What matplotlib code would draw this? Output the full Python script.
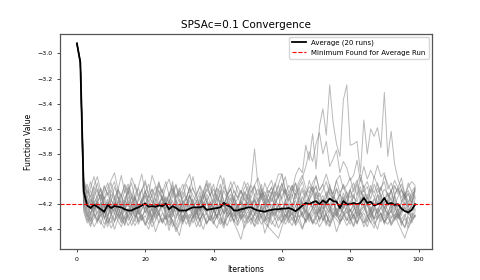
import matplotlib
matplotlib.use("Agg")
import matplotlib.pyplot as plt
import numpy as np

# every run starts from the same point
head = [-2.92, -3.07]

runs_tail = [
    [-4.08, -4.16, -4.24, -4.19, -4.27, -4.21, -4.14, -4.23,
     -4.28, -4.18, -4.22, -4.13, -4.25, -4.31, -4.20, -4.15, -4.24, -4.17,
     -4.26, -4.21, -4.12, -4.23, -4.29, -4.18, -4.24, -4.16, -4.27, -4.20,
     -4.33, -4.22, -4.15, -4.25, -4.19, -4.28, -4.13, -4.21, -4.26, -4.18,
     -4.24, -4.30, -4.17, -4.22, -4.11, -4.26, -4.20, -4.29, -4.16, -4.23,
     -4.19, -4.27, -4.14, -4.24, -4.31, -4.18, -4.22, -4.12, -4.25, -4.20,
     -4.28, -4.16, -4.23, -4.19, -4.30, -4.14, -4.21, -4.26, -4.17, -4.24,
     -4.11, -4.22, -4.27, -4.18, -4.25, -4.15, -4.29, -4.20, -4.23, -4.13,
     -4.26, -4.19, -4.31, -4.17, -4.22, -4.14, -4.25, -4.20, -4.28, -4.16,
     -4.23, -4.18, -4.27, -4.12, -4.24, -4.29, -4.19, -4.22, -4.15, -4.21],
    [-4.15, -4.26, -4.33, -4.28, -4.35, -4.24, -4.30, -4.38,
     -4.27, -4.33, -4.22, -4.31, -4.36, -4.25, -4.29, -4.34, -4.21, -4.30,
     -4.37, -4.28, -4.24, -4.32, -4.26, -4.35, -4.29, -4.41, -4.27, -4.31,
     -4.23, -4.34, -4.28, -4.38, -4.30, -4.25, -4.33, -4.27, -4.36, -4.29,
     -4.32, -4.22, -4.30, -4.37, -4.26, -4.34, -4.28, -4.31, -4.24, -4.35,
     -4.29, -4.36, -4.27, -4.33, -4.21, -4.30, -4.38, -4.26, -4.32, -4.28,
     -4.34, -4.25, -4.31, -4.27, -4.36, -4.23, -4.30, -4.33, -4.28, -4.35,
     -4.26, -4.32, -4.29, -4.37, -4.24, -4.31, -4.27, -4.34, -4.30, -4.22,
     -4.33, -4.28, -4.35, -4.26, -4.31, -4.38, -4.29, -4.24, -4.32, -4.27,
     -4.36, -4.30, -4.25, -4.33, -4.28, -4.34, -4.39, -4.27, -4.31, -4.29],
    [-4.04, -4.11, -4.02, -4.14, -4.08, -4.18, -4.06, -4.12,
     -4.03, -4.15, -4.09, -3.97, -4.11, -4.07, -4.16, -4.04, -4.13, -4.09,
     -4.01, -4.14, -4.08, -4.17, -4.05, -4.11, -4.02, -4.13, -4.07, -4.19,
     -4.10, -4.04, -4.15, -4.08, -3.98, -4.12, -4.06, -4.16, -4.09, -4.03,
     -4.14, -4.07, -4.11, -3.99, -4.13, -4.08, -4.17, -4.05, -4.12, -4.02,
     -4.10, -4.15, -4.06, -4.13, -4.04, -4.18, -4.09, -4.12, -4.03, -4.14,
     -4.07, -3.98, -4.11, -4.05, -4.16, -4.08, -4.02, -4.13, -4.06, -4.10,
     -3.97, -4.09, -4.04, -4.14, -4.07, -4.12, -4.01, -4.11, -4.05, -4.15,
     -4.08, -4.03, -4.13, -3.99, -4.10, -4.06, -4.16, -4.04, -4.11, -4.07,
     -4.02, -4.14, -4.09, -4.05, -4.12, -4.08, -4.15, -4.03, -4.10, -4.06],
    [-4.20, -4.30, -4.22, -4.27, -4.33, -4.19, -4.26, -4.31,
     -4.21, -4.28, -4.17, -4.25, -4.32, -4.23, -4.29, -4.20, -4.34, -4.24,
     -4.18, -4.27, -4.31, -4.22, -4.26, -4.19, -4.30, -4.24, -4.35, -4.38,
     -4.45, -4.32, -4.25, -4.21, -4.29, -4.23, -4.33, -4.26, -4.18, -4.28,
     -4.22, -4.31, -4.25, -4.19, -4.30, -4.27, -4.34, -4.21, -4.26, -4.23,
     -4.32, -4.24, -4.17, -4.29, -4.22, -4.33, -4.26, -4.20, -4.28, -4.24,
     -4.31, -4.19, -4.27, -4.23, -4.35, -4.25, -4.21, -4.30, -4.24, -4.18,
     -4.28, -4.22, -4.33, -4.26, -4.20, -4.29, -4.23, -4.31, -4.19, -4.27,
     -4.24, -4.32, -4.21, -4.28, -4.25, -4.18, -4.30, -4.23, -4.27, -4.34,
     -4.22, -4.29, -4.25, -4.20, -4.31, -4.26, -4.23, -4.28, -4.19, -4.24],
    [-4.02, -4.13, -4.21, -4.06, -4.17, -4.25, -4.10, -4.03,
     -4.16, -4.22, -4.09, -4.14, -4.05, -4.19, -4.26, -4.12, -4.07, -4.18,
     -4.11, -4.04, -4.15, -4.23, -4.13, -4.08, -4.20, -4.14, -4.02, -4.17,
     -4.24, -4.10, -4.16, -4.06, -4.19, -4.12, -4.25, -4.15, -4.08, -4.13,
     -4.04, -4.18, -4.11, -4.22, -4.14, -4.07, -4.20, -4.16, -4.09, -4.15,
     -4.21, -4.10, -4.05, -4.17, -4.12, -4.24, -4.13, -4.06, -4.19, -4.11,
     -4.16, -4.08, -4.22, -4.14, -4.03, -4.15, -4.20, -4.09, -4.17, -4.12,
     -4.05, -4.18, -4.13, -4.23, -4.10, -4.16, -4.07, -4.19, -4.14, -4.21,
     -4.09, -4.15, -4.04, -4.17, -4.12, -4.22, -4.08, -4.14, -4.19, -4.06,
     -4.16, -4.11, -4.23, -4.13, -4.07, -4.18, -4.12, -4.20, -4.10, -4.15],
    [-4.18, -4.29, -4.36, -4.31, -4.26, -4.34, -4.39, -4.30,
     -4.35, -4.27, -4.33, -4.38, -4.29, -4.24, -4.32, -4.37, -4.31, -4.28,
     -4.34, -4.40, -4.30, -4.26, -4.35, -4.31, -4.37, -4.28, -4.33, -4.42,
     -4.36, -4.30, -4.25, -4.34, -4.29, -4.38, -4.32, -4.27, -4.35, -4.31,
     -4.36, -4.28, -4.33, -4.39, -4.30, -4.26, -4.35, -4.41, -4.48, -4.37,
     -4.31, -4.27, -4.34, -4.29, -4.36, -4.32, -4.25, -4.33, -4.38, -4.30,
     -4.35, -4.28, -4.32, -4.37, -4.29, -4.34, -4.40, -4.31, -4.27, -4.33,
     -4.36, -4.30, -4.25, -4.34, -4.38, -4.29, -4.32, -4.36, -4.28, -4.33,
     -4.30, -4.37, -4.26, -4.31, -4.35, -4.29, -4.34, -4.39, -4.30, -4.27,
     -4.33, -4.36, -4.31, -4.28, -4.35, -4.41, -4.47, -4.38, -4.32, -4.29],
    [-4.10, -4.04, -4.19, -4.27, -4.15, -4.08, -4.22, -4.30,
     -4.18, -4.06, -4.14, -4.25, -4.20, -4.11, -4.03, -4.17, -4.28, -4.21,
     -4.13, -4.24, -4.30, -4.19, -4.09, -4.16, -4.26, -4.22, -4.14, -4.05,
     -4.18, -4.27, -4.21, -4.12, -4.24, -4.31, -4.20, -4.10, -4.17, -4.26,
     -4.22, -4.13, -4.04, -4.19, -4.28, -4.23, -4.15, -4.25, -4.32, -4.21,
     -4.12, -4.18, -4.27, -4.20, -4.09, -4.16, -4.24, -4.29, -4.19, -4.14,
     -4.03, -4.17, -4.26, -4.22, -4.11, -4.19, -4.28, -4.21, -4.13, -4.06,
     -4.18, -4.25, -4.20, -4.10, -4.23, -4.30, -4.17, -4.12, -4.24, -4.19,
     -4.08, -4.21, -4.27, -4.15, -4.05, -4.18, -4.26, -4.22, -4.13, -4.20,
     -4.29, -4.16, -4.09, -4.23, -4.28, -4.18, -4.12, -4.25, -4.21, -4.08],
    [-4.24, -4.33, -4.27, -4.21, -4.30, -4.36, -4.25, -4.19,
     -4.28, -4.34, -4.23, -4.29, -4.37, -4.26, -4.20, -4.31, -4.25, -4.33,
     -4.22, -4.28, -4.35, -4.27, -4.18, -4.26, -4.32, -4.24, -4.30, -4.21,
     -4.29, -4.36, -4.26, -4.23, -4.31, -4.27, -4.34, -4.22, -4.28, -4.33,
     -4.25, -4.19, -4.29, -4.35, -4.24, -4.30, -4.26, -4.21, -4.32, -4.28,
     -4.23, -4.31, -4.37, -4.27, -4.22, -4.29, -4.34, -4.25, -4.30, -4.20,
     -4.27, -4.33, -4.24, -4.29, -4.21, -4.30, -4.26, -4.35, -4.28, -4.23,
     -4.31, -4.25, -4.19, -4.28, -4.34, -4.26, -4.30, -4.22, -4.27, -4.33,
     -4.24, -4.29, -4.36, -4.25, -4.21, -4.30, -4.27, -4.32, -4.23, -4.28,
     -4.35, -4.26, -4.22, -4.31, -4.27, -4.37, -4.29, -4.24, -4.30, -4.26],
    [-4.00, -4.09, -4.14, -4.05, -3.98, -4.10, -4.16, -4.07,
     -4.01, -3.95, -4.08, -4.13, -4.04, -4.11, -3.99, -4.06, -4.15, -4.09,
     -4.03, -4.12, -3.97, -4.05, -4.10, -4.17, -4.06, -4.00, -4.11, -4.04,
     -4.14, -4.08, -4.02, -3.96, -4.09, -4.13, -4.05, -4.11, -4.01, -4.07,
     -4.15, -4.06, -3.97, -4.04, -4.12, -4.08, -4.02, -4.10, -4.16, -4.07,
     -4.03, -4.11, -4.05, -3.99, -4.09, -4.14, -4.06, -4.01, -4.12, -4.04,
     -3.96, -4.08, -4.13, -4.05, -4.10, -4.02, -3.97, -4.07, -4.11, -4.03,
     -3.98, -4.09, -4.04, -3.96, -4.06, -4.12, -4.01, -3.97, -4.08, -4.05,
     -3.99, -4.10, -4.03, -3.96, -4.07, -4.02, -4.11, -3.98, -4.05, -4.09,
     -3.97, -4.04, -4.10, -4.01, -4.07, -3.99, -4.13, -4.06, -4.02, -4.05],
    [-4.14, -4.22, -4.28, -4.17, -4.24, -4.19, -4.31, -4.25,
     -4.16, -4.23, -4.29, -4.20, -4.26, -4.14, -4.22, -4.30, -4.24, -4.18,
     -4.27, -4.21, -4.33, -4.25, -4.19, -4.23, -4.15, -4.28, -4.22, -4.26,
     -4.20, -4.31, -4.24, -4.17, -4.27, -4.22, -4.29, -4.18, -4.25, -4.21,
     -4.32, -4.24, -4.19, -4.28, -4.23, -4.15, -4.26, -4.21, -4.30, -4.25,
     -4.18, -4.27, -4.22, -4.31, -4.20, -4.26, -4.16, -4.24, -4.29, -4.21,
     -4.25, -4.19, -4.30, -4.23, -4.27, -4.17, -4.24, -4.20, -4.32, -4.26,
     -4.21, -4.28, -4.16, -4.23, -4.27, -4.19, -4.25, -4.30, -4.22, -4.18,
     -4.26, -4.21, -4.29, -4.24, -4.17, -4.27, -4.22, -4.31, -4.25, -4.19,
     -4.23, -4.28, -4.20, -4.26, -4.32, -4.24, -4.18, -4.27, -4.22, -4.25],
    [-4.22, -4.31, -4.38, -4.27, -4.33, -4.29, -4.24, -4.35,
     -4.30, -4.40, -4.32, -4.26, -4.34, -4.28, -4.37, -4.31, -4.25, -4.33,
     -4.29, -4.36, -4.30, -4.42, -4.34, -4.27, -4.32, -4.28, -4.38, -4.31,
     -4.25, -4.34, -4.29, -4.36, -4.30, -4.26, -4.33, -4.40, -4.31, -4.27,
     -4.35, -4.29, -4.24, -4.32, -4.37, -4.30, -4.26, -4.34, -4.28, -4.39,
     -4.33, -4.27, -4.31, -4.36, -4.29, -4.43, -4.35, -4.30, -4.25, -4.33,
     -4.28, -4.36, -4.31, -4.26, -4.34, -4.29, -4.39, -4.32, -4.27, -4.35,
     -4.30, -4.24, -4.33, -4.28, -4.37, -4.31, -4.42, -4.34, -4.29, -4.26,
     -4.32, -4.38, -4.30, -4.27, -4.35, -4.31, -4.25, -4.33, -4.40, -4.29,
     -4.34, -4.28, -4.36, -4.31, -4.26, -4.33, -4.38, -4.30, -4.35, -4.28],
    [-4.06, -4.15, -4.09, -4.20, -4.13, -4.07, -4.18, -4.24,
     -4.12, -4.17, -4.08, -4.21, -4.15, -4.10, -4.19, -4.13, -4.23, -4.16,
     -4.09, -4.18, -4.12, -4.06, -4.17, -4.22, -4.14, -4.19, -4.08, -4.15,
     -4.11, -4.20, -4.16, -4.07, -4.13, -4.18, -4.10, -4.24, -4.17, -4.12,
     -4.19, -4.08, -4.15, -4.21, -4.13, -4.17, -4.09, -4.14, -4.20, -4.11,
     -4.16, -4.23, -4.12, -4.18, -4.07, -4.14, -4.19, -4.10, -4.16, -4.21,
     -4.13, -4.08, -4.17, -4.12, -4.22, -4.15, -4.09, -4.18, -4.14, -4.06,
     -4.16, -4.11, -4.20, -4.15, -4.08, -4.13, -4.19, -4.12, -4.17, -4.10,
     -4.21, -4.14, -4.18, -4.09, -4.15, -4.12, -4.20, -4.16, -4.07, -4.13,
     -4.19, -4.11, -4.17, -4.22, -4.14, -4.09, -4.16, -4.12, -4.19, -4.10],
    [-4.05, -4.20, -4.29, -4.12, -4.03, -4.18, -4.32, -4.22,
     -4.09, -4.15, -4.27, -4.34, -4.19, -4.06, -4.13, -4.25, -4.17, -4.08,
     -4.21, -4.30, -4.23, -4.11, -4.02, -4.16, -4.28, -4.35, -4.24, -4.14,
     -4.07, -4.19, -4.26, -4.13, -4.21, -4.33, -4.27, -4.15, -4.04, -4.12,
     -4.24, -4.31, -4.20, -4.09, -4.16, -4.28, -4.22, -4.36, -4.25, -4.13,
     -4.06, -4.18, -4.29, -4.21, -4.11, -4.19, -4.32, -4.26, -4.14, -4.05,
     -4.17, -4.24, -4.33, -4.22, -4.12, -4.07, -4.20, -4.28, -4.16, -4.10,
     -4.23, -4.34, -4.25, -4.15, -4.04, -4.17, -4.27, -4.21, -4.11, -4.19,
     -4.30, -4.24, -4.13, -4.06, -4.18, -4.29, -4.35, -4.23, -4.12, -4.16,
     -4.26, -4.20, -4.09, -4.18, -4.31, -4.25, -4.14, -4.21, -4.33, -4.15],
    [-4.19, -4.27, -4.34, -4.25, -4.21, -4.30, -4.26, -4.35,
     -4.29, -4.23, -4.31, -4.27, -4.20, -4.33, -4.28, -4.24, -4.36, -4.30,
     -4.25, -4.32, -4.27, -4.21, -4.29, -4.34, -4.26, -4.31, -4.23, -4.37,
     -4.29, -4.24, -4.32, -4.28, -4.35, -4.26, -4.22, -4.30, -4.27, -4.33,
     -4.25, -4.31, -4.36, -4.28, -4.23, -4.29, -4.34, -4.27, -4.22, -4.31,
     -4.26, -4.33, -4.28, -4.24, -4.30, -4.35, -4.38, -4.41, -4.44, -4.47,
     -4.38, -4.31, -4.26, -4.33, -4.28, -4.22, -4.30, -4.25, -4.34, -4.29,
     -4.24, -4.32, -4.27, -4.35, -4.30, -4.23, -4.29, -4.33, -4.26, -4.31,
     -4.36, -4.28, -4.24, -4.30, -4.27, -4.34, -4.25, -4.32, -4.29, -4.22,
     -4.31, -4.26, -4.35, -4.29, -4.24, -4.32, -4.28, -4.36, -4.27, -4.30],
    [-4.11, -4.19, -4.13, -4.25, -4.18, -4.12, -4.22, -4.16,
     -4.27, -4.20, -4.14, -4.23, -4.17, -4.10, -4.21, -4.26, -4.15, -4.19,
     -4.24, -4.13, -4.18, -4.28, -4.21, -4.15, -4.20, -4.11, -4.23, -4.17,
     -4.26, -4.19, -4.14, -4.22, -4.16, -4.27, -4.20, -4.12, -4.18, -4.24,
     -4.15, -4.21, -4.09, -4.17, -4.25, -4.19, -4.13, -4.22, -4.18, -4.27,
     -4.14, -4.20, -4.16, -4.24, -4.11, -4.19, -4.23, -4.15, -4.21, -4.13,
     -4.26, -4.18, -4.12, -4.22, -4.17, -4.25, -4.14, -4.20, -4.16, -4.23,
     -4.10, -4.19, -4.24, -4.17, -4.21, -4.13, -4.18, -4.26, -4.15, -4.22,
     -4.19, -4.12, -4.24, -4.18, -4.14, -4.21, -4.27, -4.16, -4.20, -4.13,
     -4.23, -4.17, -4.21, -4.14, -4.26, -4.19, -4.15, -4.22, -4.18, -4.13],
    [-4.03, -4.12, -4.07, -3.98, -4.10, -4.16, -4.05, -4.13,
     -4.08, -4.02, -4.14, -4.19, -4.09, -4.04, -4.12, -4.17, -4.06, -3.96,
     -4.11, -4.15, -4.08, -4.13, -4.03, -4.10, -4.18, -4.12, -4.05, -4.14,
     -4.09, -4.16, -4.04, -4.11, -4.07, -4.15, -4.20, -4.10, -4.03, -4.13,
     -4.08, -4.14, -4.18, -4.06, -4.12, -4.02, -4.10, -4.15, -4.09, -4.17,
     -4.11, -4.05, -4.13, -4.08, -4.16, -4.03, -4.11, -4.07, -4.14, -4.10,
     -4.04, -4.12, -4.18, -4.09, -4.03, -4.13, -4.07, -4.15, -4.01, -4.10,
     -4.06, -4.14, -4.09, -4.02, -4.12, -4.17, -4.08, -4.13, -4.04, -4.11,
     -4.15, -4.07, -4.01, -4.12, -4.09, -4.16, -4.05, -4.11, -4.03, -4.14,
     -4.08, -4.12, -4.17, -4.06, -4.10, -4.04, -4.13, -4.09, -4.15, -4.07],
    [-4.26, -4.35, -4.30, -4.38, -4.33, -4.27, -4.36, -4.31,
     -4.39, -4.34, -4.28, -4.35, -4.30, -4.37, -4.32, -4.26, -4.34, -4.29,
     -4.36, -4.31, -4.38, -4.33, -4.27, -4.35, -4.30, -4.37, -4.32, -4.40,
     -4.34, -4.29, -4.36, -4.31, -4.27, -4.33, -4.38, -4.30, -4.35, -4.29,
     -4.34, -4.39, -4.31, -4.36, -4.30, -4.26, -4.33, -4.37, -4.32, -4.28,
     -4.35, -4.31, -4.38, -4.33, -4.27, -4.34, -4.30, -4.36, -4.31, -4.39,
     -4.33, -4.28, -4.35, -4.30, -4.37, -4.32, -4.27, -4.34, -4.29, -4.36,
     -4.31, -4.38, -4.33, -4.28, -4.35, -4.30, -4.26, -4.34, -4.31, -4.37,
     -4.32, -4.28, -4.35, -4.30, -4.38, -4.33, -4.29, -4.36, -4.31, -4.27,
     -4.34, -4.30, -4.37, -4.32, -4.28, -4.35, -4.31, -4.39, -4.33, -4.30],
    [-4.16, -4.24, -4.31, -4.22, -4.18, -4.27, -4.21, -4.29,
     -4.24, -4.19, -4.26, -4.32, -4.23, -4.17, -4.25, -4.21, -4.28, -4.24,
     -4.19, -4.27, -4.22, -4.30, -4.25, -4.20, -4.26, -4.23, -4.17, -4.29,
     -4.24, -4.20, -4.27, -4.31, -4.23, -4.18, -4.25, -4.22, -4.28, -4.19,
     -4.26, -4.21, -4.29, -4.24, -4.18, -4.25, -4.30, -4.22, -4.27, -4.20,
     -4.24, -4.28, -4.21, -4.17, -4.25, -4.22, -4.29, -4.24, -4.19, -4.27,
     -4.23, -4.30, -4.25, -4.20, -4.26, -4.22, -4.18, -4.25, -4.29, -4.23,
     -4.19, -4.26, -4.22, -4.28, -4.24, -4.18, -4.25, -4.21, -4.27, -4.23,
     -4.30, -4.25, -4.20, -4.26, -4.22, -4.29, -4.24, -4.19, -4.27, -4.23,
     -4.18, -4.25, -4.31, -4.24, -4.20, -4.26, -4.22, -4.28, -4.25, -4.21],
    [-4.13, -4.21, -4.16, -4.24, -4.19, -4.12, -4.23, -4.18,
     -4.25, -4.15, -4.21, -4.28, -4.17, -4.22, -4.14, -4.20, -4.26, -4.18,
     -4.13, -4.22, -4.17, -4.25, -4.20, -4.14, -4.23, -4.18, -4.27, -4.21,
     -4.16, -4.24, -4.19, -4.13, -4.22, -4.17, -4.26, -4.20, -4.15, -4.23,
     -4.18, -4.12, -4.21, -4.27, -4.19, -4.24, -4.16, -4.22, -4.18, -4.25,
     -4.14, -4.20, -4.17, -4.23, -4.15, -4.21, -4.12, -4.18, -4.10, -4.15,
     -4.08, -4.12, -4.05, -4.09, -3.97, -3.91, -3.95, -3.73, -3.85, -3.64,
     -3.92, -3.58, -3.44, -3.65, -3.25, -3.55, -3.72, -3.82, -3.37, -3.25,
     -3.73, -3.72, -3.70, -3.95, -3.53, -3.80, -3.60, -3.66, -3.59, -3.75,
     -3.31, -3.82, -3.62, -3.88, -4.00, -4.08, -4.15, -4.11, -4.19, -4.07],
    [-4.09, -4.17, -4.23, -4.14, -4.20, -4.27, -4.16, -4.11,
     -4.21, -4.26, -4.18, -4.12, -4.24, -4.19, -4.28, -4.15, -4.22, -4.17,
     -4.10, -4.19, -4.25, -4.16, -4.21, -4.13, -4.24, -4.18, -4.11, -4.20,
     -4.26, -4.17, -4.22, -4.14, -4.19, -4.25, -4.16, -4.21, -4.12, -4.18,
     -4.23, -4.15, -4.20, -4.27, -4.17, -4.12, -4.19, -4.24, -4.16, -4.10,
     -4.14, -4.03, -3.76, -4.05, -4.15, -4.10, -4.18, -4.12, -4.05, -3.96,
     -3.96, -4.10, -4.16, -4.08, -4.13, -4.05, -3.99, -3.90, -3.78, -3.86,
     -3.72, -3.63, -3.80, -3.70, -3.90, -3.84, -3.77, -3.95, -3.86, -3.91,
     -4.01, -3.97, -3.85, -4.02, -3.90, -4.00, -3.93, -3.99, -3.89, -3.98,
     -3.95, -4.08, -4.03, -4.12, -4.07, -4.15, -4.10, -4.18, -4.13, -4.09],
]

average = [
    -2.92, -3.07, -4.10, -4.21, -4.23, -4.205, -4.22, -4.24, -4.26, -4.205,
    -4.23, -4.215, -4.22, -4.225, -4.24, -4.25, -4.25, -4.235, -4.225, -4.21,
    -4.195, -4.22, -4.215, -4.22, -4.21, -4.215, -4.195, -4.24, -4.215, -4.23,
    -4.25, -4.25, -4.25, -4.235, -4.225, -4.225, -4.225, -4.215, -4.245, -4.24,
    -4.235, -4.23, -4.225, -4.19, -4.21, -4.22, -4.25, -4.25, -4.24, -4.235,
    -4.225, -4.225, -4.24, -4.25, -4.255, -4.26, -4.25, -4.245, -4.24, -4.24,
    -4.235, -4.235, -4.23, -4.24, -4.255, -4.235, -4.21, -4.19, -4.20, -4.185,
    -4.175, -4.20, -4.17, -4.19, -4.155, -4.175, -4.18, -4.23, -4.175, -4.20,
    -4.20, -4.19, -4.20, -4.19, -4.15, -4.19, -4.18, -4.21, -4.20, -4.19,
    -4.15, -4.20, -4.19, -4.205, -4.20, -4.235, -4.255, -4.265, -4.245, -4.20,
]

min_found = -4.2

fig, ax = plt.subplots(figsize=(4.8, 2.8), dpi=100)

for tail in runs_tail:
    run = head + tail
    ax.plot(np.arange(len(run)), run, color="gray", alpha=0.55, linewidth=0.7)

ax.plot(np.arange(len(average)), average, color="black", linewidth=1.3,
        label="Average (20 runs)")
ax.axhline(min_found, color="red", linestyle="--", linewidth=0.8,
           label="Minimum Found for Average Run")

ax.set_title("SPSAc=0.1 Convergence", fontsize=7.5, pad=4)
ax.set_xlabel("Iterations", fontsize=5.5, labelpad=2)
ax.set_ylabel("Function Value", fontsize=5.5, labelpad=3)
ax.tick_params(labelsize=4.5, width=0.5, length=2)
for s in ax.spines.values():
    s.set_linewidth(0.9)
    s.set_color("#555555")
ax.legend(loc="upper right", fontsize=5)

fig.savefig("out.png", dpi=100)
